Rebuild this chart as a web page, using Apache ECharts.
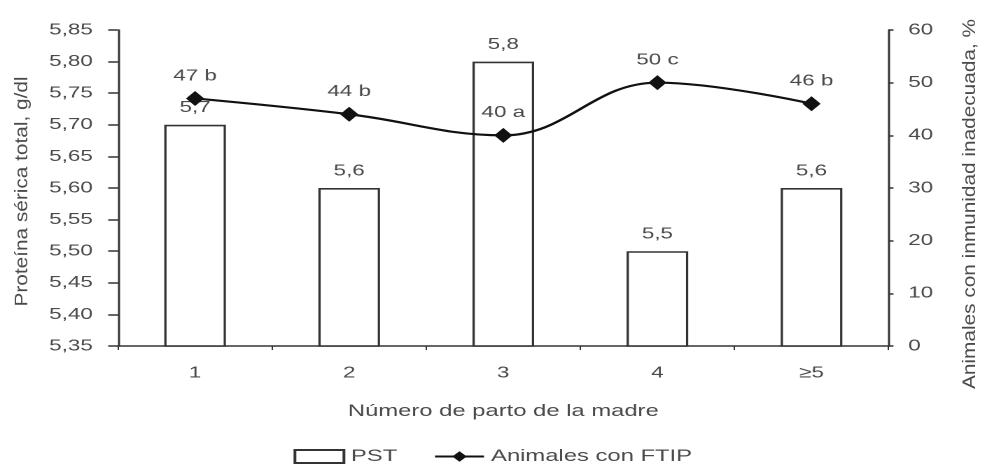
<!DOCTYPE html>
<html>
<head>
<meta charset="utf-8">
<script src="https://cdn.jsdelivr.net/npm/echarts@6/dist/echarts.min.js"></script>
<style>
html,body{margin:0;padding:0;background:#fff;overflow:hidden;}
#wrap{width:985px;height:473px;overflow:hidden;position:relative;}
#c{width:703.57px;height:473px;transform:scaleX(1.4);transform-origin:0 0;position:absolute;left:0;top:0;}
</style>
</head>
<body>
<div id="wrap"><div id="c"></div></div>
<script>
var categories = ['1', '2', '3', '4', '≥5'];
var pstValues = [5.7, 5.6, 5.8, 5.5, 5.6];
var ftipValues = [47, 44, 40, 50, 46];
var ftipLetters = ['b', 'b', 'a', 'c', 'b'];
var leftAxisName = 'Proteína sérica total, g/dl';
var rightAxisName = 'Animales con inmunidad inadecuada, %';

var chart = echarts.init(document.getElementById('c'), null, {devicePixelRatio: 2});
var txt = '#4a4a4a';
var axisCol = '#333';
var font = 'Liberation Sans, Arial, sans-serif';
chart.setOption({
  animation: false,
  textStyle: {fontFamily: font},
  grid: {left: 84.3, right: 69.3, top: 30, bottom: 127, containLabel: false, outerBoundsMode: 'none'},
  graphic: [{
    type: 'text', x: 15.7, y: 191.5, rotation: Math.PI / 2, scaleX: 1.6, silent: true,
    style: {text: leftAxisName, fontFamily: font, fontSize: 13, fill: txt, align: 'center', verticalAlign: 'middle'}
  }, {
    type: 'text', x: 692.9, y: 204, rotation: Math.PI / 2, scaleX: 1.6, silent: true,
    style: {text: rightAxisName, fontFamily: font, fontSize: 13, fill: txt, align: 'center', verticalAlign: 'middle'}
  }],
  legend: {
    bottom: 3, left: 'center',
    itemWidth: 35, itemHeight: 13, itemGap: 26,
    textStyle: {color: txt, fontSize: 17},
    data: [
      {name: 'PST', icon: 'rect'},
      {name: 'Animales con FTIP'}
    ]
  },
  xAxis: {
    type: 'category',
    data: categories,
    name: 'Número de parto de la madre',
    nameLocation: 'middle',
    nameGap: 57,
    nameTextStyle: {color: txt, fontSize: 17},
    axisLine: {lineStyle: {color: axisCol, width: 1.5}},
    axisTick: {show: true, length: 4, lineStyle: {color: axisCol}},
    axisLabel: {color: txt, fontSize: 16, margin: 19}
  },
  yAxis: [{
    type: 'value',
    min: 5.35, max: 5.85, interval: 0.05,
    splitLine: {show: false},
    axisLine: {show: true, lineStyle: {color: axisCol, width: 1.5}},
    axisTick: {show: true, length: 7, lineStyle: {color: axisCol, width: 1.5}},
    axisLabel: {color: txt, fontSize: 16, margin: 18, formatter: function (v) { return v.toFixed(2).replace('.', ','); }}
  }, {
    type: 'value',
    min: 0, max: 60, interval: 10,
    splitLine: {show: false},
    axisLine: {show: true, lineStyle: {color: axisCol, width: 1.5}},
    axisTick: {show: true, length: 3.5, lineStyle: {color: axisCol, width: 1.5}},
    axisLabel: {color: txt, fontSize: 16, margin: 14}
  }],
  series: [{
    name: 'PST',
    type: 'bar',
    yAxisIndex: 0,
    data: pstValues,
    barWidth: 44,
    itemStyle: {color: '#fff', borderColor: '#333', borderWidth: 1.6},
    label: {show: true, position: 'top', distance: 9, color: txt, fontSize: 16,
      formatter: function (p) { return p.value.toFixed(1).replace('.', ','); }},
    z: 1
  }, {
    name: 'Animales con FTIP',
    type: 'line',
    yAxisIndex: 1,
    data: ftipValues,
    smooth: 0.4,
    symbol: 'diamond',
    symbolSize: [13, 15],
    lineStyle: {color: '#111', width: 2.2},
    itemStyle: {color: '#111'},
    label: {show: true, position: 'top', distance: 7, color: txt, fontSize: 16,
      formatter: function (p) { return p.value + ' ' + ftipLetters[p.dataIndex]; }},
    z: 3
  }]
});
</script>
</body>
</html>
